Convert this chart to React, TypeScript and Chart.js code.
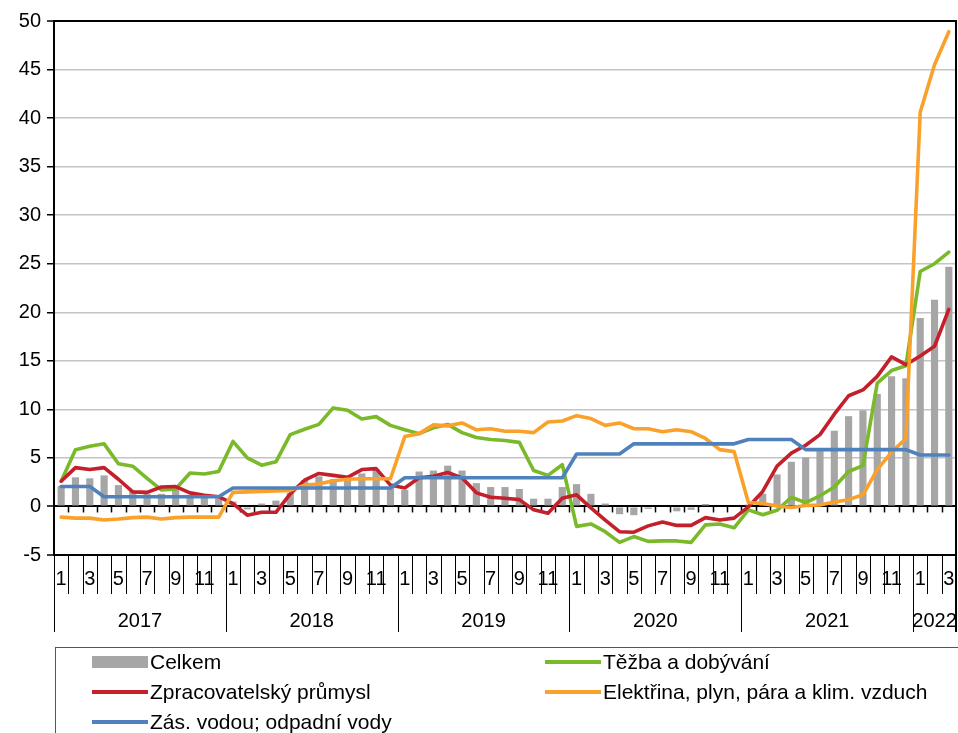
import React, { useEffect, useRef } from "react";
import { Chart, registerables } from "chart.js";

Chart.register(...registerables);

const years = ["2017", "2018", "2019", "2020", "2021", "2022"];
const monthsPerYear = [12, 12, 12, 12, 12, 3];
const monthTickLabels = ["1", "", "3", "", "5", "", "7", "", "9", "", "11", ""];

const categories: string[] = [];
years.forEach((y, yi) => {
  for (let m = 1; m <= monthsPerYear[yi]; m++) categories.push(`${y}-${m}`);
});

const celkem = [
  2.1, 3.0, 2.9, 3.2, 2.2, 1.6, 1.3, 1.3, 1.8, 1.2, 1.0, 0.8,
  0.5, -0.3, 0.3, 0.6, 1.4, 2.7, 3.1, 2.8, 3.0, 3.4, 3.8, 2.0,
  1.7, 3.6, 3.7, 4.2, 3.7, 2.4, 2.0, 2.0, 1.8, 0.8, 0.8, 2.0,
  2.3, 1.3, 0.3, -0.8, -0.9, -0.25, 0.1, -0.5, -0.35, 0.25, 0.1, 0.1,
  0.2, 1.3, 3.3, 4.6, 5.05, 5.7, 7.8, 9.3, 9.9, 11.6, 13.4, 13.2,
  19.4, 21.3, 24.7,
];

const tezba = [
  2.6, 5.85, 6.2, 6.45, 4.4, 4.15, 2.9, 1.7, 1.8, 3.45, 3.35, 3.6,
  6.7, 5.0, 4.25, 4.6, 7.4, 7.95, 8.45, 10.15, 9.9, 9.0, 9.25, 8.35,
  7.9, 7.5, 8.1, 8.45, 7.6, 7.1, 6.9, 6.8, 6.6, 3.7, 3.2, 4.3,
  -2.05, -1.8, -2.6, -3.7, -3.1, -3.6, -3.55, -3.55, -3.7, -1.9, -1.8, -2.2,
  -0.35, -0.85, -0.4, 0.95, 0.4, 1.1, 2.0, 3.6, 4.2, 12.7, 14.0, 14.5,
  24.2, 25.0, 26.2,
];

const zpracovatelsky = [
  2.6, 4.0, 3.8, 4.0, 2.8, 1.5, 1.45, 2.0, 2.05, 1.4, 1.15, 1.0,
  0.3, -0.9, -0.6, -0.6, 1.3, 2.7, 3.4, 3.2, 3.0, 3.8, 3.9, 2.2,
  1.9, 2.95, 3.1, 3.5, 2.95, 1.4, 0.95, 0.85, 0.7, -0.35, -0.7, 0.85,
  1.2, -0.15, -1.4, -2.6, -2.65, -2.0, -1.6, -1.95, -1.95, -1.15, -1.4, -1.2,
  -0.05, 1.55, 4.15, 5.5, 6.3, 7.4, 9.5, 11.4, 12.0, 13.4, 15.4, 14.6,
  15.5, 16.5, 20.3,
];

const elektrina = [
  -1.1, -1.2, -1.2, -1.4, -1.3, -1.15, -1.1, -1.3, -1.15, -1.1, -1.1, -1.1,
  1.45, 1.5, 1.55, 1.6, 1.65, 2.2, 2.3, 2.65, 2.8, 2.85, 2.85, 2.85,
  7.2, 7.5, 8.4, 8.3, 8.6, 7.9, 8.0, 7.75, 7.75, 7.6, 8.7, 8.8,
  9.35, 9.05, 8.35, 8.6, 8.0, 8.0, 7.7, 7.9, 7.7, 7.0, 5.85, 5.65,
  0.4, 0.3, 0.05, -0.1, 0.1, 0.15, 0.45, 0.7, 1.2, 3.8, 5.6, 7.0,
  40.6, 45.5, 48.9,
];

const vodovod = [
  2.05, 2.05, 2.05, 1.0, 1.0, 1.0, 1.0, 1.0, 1.0, 1.0, 1.0, 1.0,
  1.9, 1.9, 1.9, 1.9, 1.9, 1.9, 1.9, 1.9, 1.9, 1.9, 1.9, 1.9,
  2.95, 2.95, 2.95, 2.95, 2.95, 2.95, 2.95, 2.95, 2.95, 2.95, 2.95, 2.95,
  5.4, 5.4, 5.4, 5.4, 6.45, 6.45, 6.45, 6.45, 6.45, 6.45, 6.45, 6.45,
  6.9, 6.9, 6.9, 6.9, 5.85, 5.85, 5.85, 5.85, 5.85, 5.85, 5.85, 5.85,
  5.3, 5.3, 5.3,
];

const yTicks = { min: -5, max: 50, step: 5 };

const COLORS = {
  bar: "#a6a6a6",
  green: "#7ab929",
  red: "#c3202b",
  orange: "#f9a12b",
  blue: "#4f81bd",
};

const FONT = '"Liberation Sans", Arial, sans-serif';

const multiAxisPlugin = {
  id: "multiAxis",
  beforeDatasetsDraw(chart: any) {
    const { ctx, chartArea } = chart;
    const x = chart.scales.x;
    const y = chart.scales.y;
    const y0 = y.getPixelForValue(0);
    const n = categories.length;
    const w = (chartArea.right - chartArea.left) / n;
    ctx.save();
    ctx.strokeStyle = "#000";
    ctx.lineWidth = 1.5;
    for (let k = 1; k < n; k++) {
      const bx = Math.round(x.getPixelForValue(k) - w / 2) + 0.5;
      ctx.beginPath();
      ctx.moveTo(bx, y0);
      ctx.lineTo(bx, y0 + 6);
      ctx.stroke();
    }
    ctx.restore();
  },
  afterDraw(chart: any) {
    const { ctx, chartArea } = chart;
    const x = chart.scales.x;
    const n = categories.length;
    const w = (chartArea.right - chartArea.left) / n;
    const bottom = chartArea.bottom;
    ctx.save();
    ctx.strokeStyle = "#000";
    ctx.lineWidth = 2;
    ctx.beginPath();
    ctx.moveTo(chartArea.left, chartArea.top);
    ctx.lineTo(chartArea.right, chartArea.top);
    ctx.lineTo(chartArea.right, bottom + 77);
    ctx.stroke();

    let idx = 0;
    const yearStart: number[] = [];
    years.forEach((_, yi) => {
      yearStart.push(idx);
      idx += monthsPerYear[yi];
    });
    ctx.lineWidth = 1;
    for (let k = 0; k < n; k++) {
      const bx = Math.round(x.getPixelForValue(k) - w / 2) + 0.5;
      const isYear = yearStart.includes(k);
      ctx.beginPath();
      ctx.moveTo(bx, bottom);
      ctx.lineTo(bx, bottom + (isYear ? 77 : 39));
      ctx.stroke();
    }

    ctx.fillStyle = "#000";
    ctx.font = `20px ${FONT}`;
    ctx.textAlign = "center";
    ctx.textBaseline = "middle";
    let c = 0;
    years.forEach((yr, yi) => {
      for (let m = 0; m < monthsPerYear[yi]; m++) {
        const lbl = monthTickLabels[m];
        if (lbl) ctx.fillText(lbl, x.getPixelForValue(c + m), bottom + 24);
      }
      const cx =
        (x.getPixelForValue(c) + x.getPixelForValue(c + monthsPerYear[yi] - 1)) / 2;
      ctx.fillText(yr, cx, bottom + 66);
      c += monthsPerYear[yi];
    });
    ctx.restore();
  },
};

function LegendItem(props: { left: number; top: number; color: string; bar?: boolean; text: string }) {
  const { left, top, color, bar, text } = props;
  return (
    <div style={{ position: "absolute", left, top, height: 30, display: "flex", alignItems: "center" }}>
      <div
        style={{
          width: 56,
          height: bar ? 12 : 4,
          background: color,
          marginRight: 2,
        }}
      />
      <span style={{ fontFamily: FONT, fontSize: 21, color: "#000", whiteSpace: "nowrap" }}>{text}</span>
    </div>
  );
}

export default function App() {
  const canvasRef = useRef<HTMLCanvasElement | null>(null);

  useEffect(() => {
    if (!canvasRef.current) return;
    const lineDs = (label: string, data: number[], color: string, order: number) => ({
      type: "line" as const,
      label,
      data,
      borderColor: color,
      backgroundColor: color,
      borderWidth: 3.6,
      pointRadius: 0,
      tension: 0,
      borderCapStyle: "round" as const,
      borderJoinStyle: "round" as const,
      order,
    });
    const chart = new Chart(canvasRef.current, {
      type: "bar",
      data: {
        labels: categories,
        datasets: [
          {
            type: "bar",
            label: "Celkem",
            data: celkem,
            backgroundColor: COLORS.bar,
            barPercentage: 0.5,
            categoryPercentage: 1,
            order: 10,
          } as any,
          lineDs("Těžba a dobývání", tezba, COLORS.green, 4),
          lineDs("Zpracovatelský průmysl", zpracovatelsky, COLORS.red, 3),
          lineDs("Elektřina, plyn, pára a klim. vzduch", elektrina, COLORS.orange, 2),
          lineDs("Zás. vodou; odpadní vody", vodovod, COLORS.blue, 1),
        ],
      },
      options: {
        animation: false,
        responsive: false,
        devicePixelRatio: 1,
        layout: { padding: { left: 0, right: 2, top: 21, bottom: 178 } },
        plugins: {
          legend: { display: false },
          tooltip: { enabled: false },
          title: { display: false },
        },
        scales: {
          x: {
            type: "category",
            display: false,
            offset: true,
            grid: { display: false },
          },
          y: {
            min: yTicks.min,
            max: yTicks.max,
            afterFit: (s: any) => {
              s.width = 54;
            },
            ticks: {
              stepSize: yTicks.step,
              color: "#000",
              font: { family: FONT, size: 20 },
              padding: 6,
            },
            border: { display: true, color: "#000", width: 2 },
            grid: {
              color: (c: any) => {
                const v = c.tick && c.tick.value;
                return v === 0 || v === yTicks.min || v === yTicks.max ? "#000" : "#c4c4c4";
              },
              lineWidth: (c: any) => {
                const v = c.tick && c.tick.value;
                return v === 0 || v === yTicks.min || v === yTicks.max ? 2 : 1.5;
              },
              tickColor: "#000",
              tickLength: 7,
              tickWidth: 1.5,
            },
          },
        },
      },
      plugins: [multiAxisPlugin],
    });
    return () => chart.destroy();
  }, []);

  return (
    <div style={{ position: "absolute", left: 0, top: 0, width: 958, height: 733, overflow: "hidden", background: "#fff" }}>
      <canvas ref={canvasRef} width={958} height={733} style={{ position: "absolute", left: 0, top: 0 }} />
      <div
        style={{
          position: "absolute",
          left: 55,
          top: 647,
          width: 920,
          height: 120,
          border: "1px solid #555",
          boxSizing: "border-box",
        }}
      />
      <LegendItem left={92} top={647} color={COLORS.bar} bar text="Celkem" />
      <LegendItem left={545} top={647} color={COLORS.green} text="Těžba a dobývání" />
      <LegendItem left={92} top={677} color={COLORS.red} text="Zpracovatelský průmysl" />
      <LegendItem left={545} top={677} color={COLORS.orange} text="Elektřina, plyn, pára a klim. vzduch" />
      <LegendItem left={92} top={707} color={COLORS.blue} text="Zás. vodou; odpadní vody" />
    </div>
  );
}
